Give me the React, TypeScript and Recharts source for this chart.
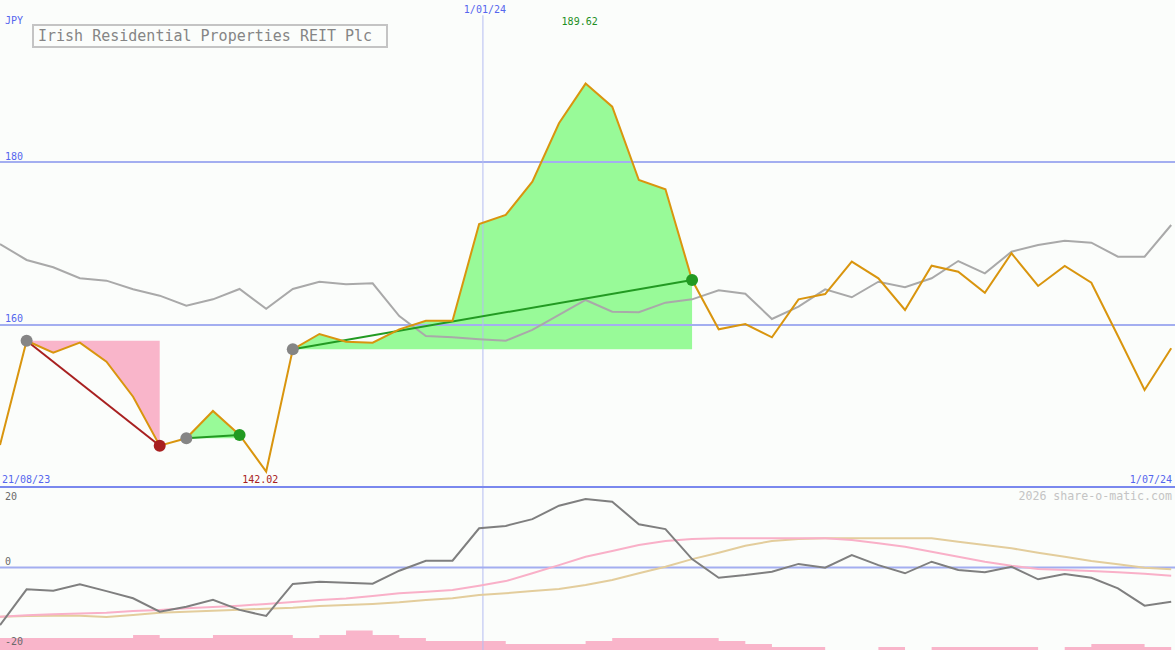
import React from "react";
import {
  ComposedChart,
  Line,
  Area,
  XAxis,
  YAxis,
  ReferenceLine,
  ReferenceDot,
} from "recharts";

// weekly closes, first one sits on the left edge
const weeks = [
  "27/08/23", "3/09/23", "10/09/23", "17/09/23", "24/09/23", "1/10/23", "8/10/23",
  "15/10/23", "22/10/23", "29/10/23", "5/11/23", "12/11/23", "19/11/23", "26/11/23",
  "3/12/23", "10/12/23", "17/12/23", "24/12/23", "31/12/23", "7/01/24", "14/01/24",
  "21/01/24", "28/01/24", "4/02/24", "11/02/24", "18/02/24", "25/02/24", "3/03/24",
  "10/03/24", "17/03/24", "24/03/24", "31/03/24", "7/04/24", "14/04/24", "21/04/24",
  "28/04/24", "5/05/24", "12/05/24", "19/05/24", "26/05/24", "2/06/24", "9/06/24",
  "16/06/24", "23/06/24", "30/06/24",
];

const price = [
  145.28, 158.07, 156.6, 157.83, 155.5, 151.2, 145.19, 146.1, 149.45, 146.5,
  142.02, 157.02, 158.9, 157.95, 157.83, 159.47, 160.53, 160.53, 172.39, 173.5,
  177.58, 184.75, 189.62, 186.79, 177.79, 176.65, 165.52, 159.47, 160.12, 158.49,
  163.15, 163.8, 167.77, 165.73, 161.84, 167.28, 166.54, 163.96, 168.8, 164.79,
  167.24, 165.19, 158.65, 152.02, 157.14,
];

const average = [
  169.94, 167.98, 167.08, 165.73, 165.44, 164.38, 163.6, 162.37, 163.15, 164.42,
  162.0, 164.42, 165.31, 164.99, 165.12, 161.1, 158.65, 158.49, 158.25, 158.07,
  159.39, 161.23, 163.07, 161.63, 161.56, 162.74, 163.15, 164.26, 163.84, 160.74,
  162.25, 164.38, 163.4, 165.31, 164.63, 165.73, 167.85, 166.34, 168.99, 169.82,
  170.34, 170.1, 168.38, 168.38, 172.27,
];

const momentum = [
  -14.4, -5.45, -5.8, -4.2, -5.9, -7.7, -11.05, -9.8, -8.1, -10.6,
  -12.1, -4.1, -3.55, -3.8, -4.05, -0.8, 1.7, 1.7, 9.8, 10.4,
  12.1, 15.45, 17.1, 16.45, 10.8, 9.6, 2.1, -2.55, -1.9, -1.05,
  0.9, -0.05, 3.1, 0.6, -1.45, 1.45, -0.6, -1.2, 0.2, -2.95,
  -1.6, -2.55, -5.2, -9.55, -8.55,
];

const signal = [
  -12.3, -11.95, -11.7, -11.5, -11.3, -10.9, -10.6, -10.2, -9.9, -9.55,
  -9.1, -8.6, -8.1, -7.75, -7.1, -6.45, -6.05, -5.6, -4.55, -3.4,
  -1.45, 0.6, 2.7, 4.1, 5.6, 6.6, 7.1, 7.3, 7.3, 7.3,
  7.3, 7.3, 6.9, 6.05, 5.2, 3.95, 2.7, 1.45, 0.45, -0.4,
  -0.6, -0.9, -1.2, -1.55, -2.05,
];

const slowSignal = [
  -12.3, -12.1, -12.05, -12.05, -12.4, -11.9, -11.3, -11.05, -10.8, -10.55,
  -10.3, -10.05, -9.6, -9.4, -9.1, -8.7, -8.1, -7.7, -6.9, -6.45,
  -5.9, -5.4, -4.4, -3.1, -1.45, 0.2, 2.1, 3.7, 5.45, 6.6,
  7.1, 7.3, 7.3, 7.3, 7.3, 7.3, 6.45, 5.6, 4.8, 3.7,
  2.7, 1.6, 0.8, -0.05, -0.45,
];

// volume block for the week starting at each close
const volume = [
  4, 4, 4, 4, 4, 5, 4, 4, 5, 5, 5, 4, 5, 6.5, 5, 4, 3, 3, 3, 2, 2, 2, 3,
  4, 4, 4, 4, 3, 2, 1, 1, 0, 0, 1, 0, 1, 1, 1, 1, 0, 1, 2, 2, 1, 1,
];

// index of the entry and exit week of each trade
const trades = [
  { open: 1, close: 6 },
  { open: 7, close: 9 },
  { open: 11, close: 26 },
];

const priceTicks = [160, 180];
const momentumTicks = [20, 0, -20];
const markerDate = "1/01/24";
const firstDate = "21/08/23";
const lastDate = "1/07/24";
const currency = "JPY";
const title = "Irish Residential Properties REIT Plc";
const credit = "2026 share-o-matic.com";

const W = 1175;
const TOP_H = 487;
const LOW_H = 163;
const PRICE_DOMAIN = [140.12, 199.88];
const MOM_DOMAIN = [-20.625, 20.125];
const MONO = "'DejaVu Sans Mono', monospace";

const BLUE = "#5566ee";
const GRID = "#a3aef0";
const ORANGE = "#d9950e";
const PINK = "#f9b5ca";
const GAIN = "#98fa98";
const WIN = "#229a22";
const LOSS = "#a82020";

const dayOf = (s: string) => {
  const [d, m, y] = s.split("/").map(Number);
  return Date.UTC(2000 + y, m - 1, d) / 86400000;
};
const day0 = dayOf(weeks[0]);
const xOf = (s: string) => dayOf(s) - day0;
const xEnd = xOf(lastDate);
const markX = xOf(markerDate);

const rows = weeks.map((w, i) => {
  const row: any = {
    x: xOf(w),
    price: price[i],
    average: average[i],
    momentum: momentum[i],
    signal: signal[i],
    slow: slowSignal[i],
    volume: volume[i],
  };
  trades.forEach((t, k) => {
    if (i < t.open || i > t.close) return;
    const entry = price[t.open];
    const won = price[t.close] >= entry;
    if (won) row.gainBand = [entry, price[i]];
    else row.lossBand = [price[i], entry];
    if (i === t.open || i === t.close) row[`trend${k}`] = price[i];
  });
  return row;
});

const peakI = price.indexOf(Math.max(...price));
const lowI = price.indexOf(Math.min(...price));

// text placed relative to a reference mark, kept inside the panel height
const tag =
  (text: string, color: string, dx: number, dy: number, anchor = "start", size = 10, panel = 0) =>
  (props: any) => {
    const vb = props.viewBox || {};
    let y = vb.y + dy;
    if (panel) y = Math.min(Math.max(y, 9), panel - 9);
    return (
      <text
        x={vb.x + dx}
        y={y}
        fill={color}
        fontSize={size}
        fontFamily={MONO}
        textAnchor={anchor}
        dominantBaseline="central"
      >
        {text}
      </text>
    );
  };

const noMargin = { top: 0, right: 0, bottom: 0, left: 0 };

function PricePanel() {
  return (
    <ComposedChart width={W} height={TOP_H} data={rows} margin={noMargin}>
      <XAxis type="number" dataKey="x" domain={[0, xEnd]} hide allowDataOverflow />
      <YAxis domain={PRICE_DOMAIN} allowDataOverflow hide />
      {priceTicks.map((t) => (
        <ReferenceLine
          key={t}
          y={t}
          stroke={GRID}
          strokeWidth={2}
          label={tag(String(t), BLUE, 5, -6)}
        />
      ))}
      <ReferenceLine
        segment={[
          { x: markX, y: 198 },
          { x: markX, y: PRICE_DOMAIN[0] },
        ]}
        stroke="#b4bcf2"
      />
      <Area
        dataKey="lossBand"
        fill={PINK}
        fillOpacity={1}
        stroke="none"
        isAnimationActive={false}
      />
      <Area
        dataKey="gainBand"
        fill={GAIN}
        fillOpacity={1}
        stroke="none"
        isAnimationActive={false}
      />
      <Line
        dataKey="average"
        stroke="#a9a9a9"
        strokeWidth={2}
        dot={false}
        activeDot={false}
        isAnimationActive={false}
      />
      {trades.map((t, k) => (
        <ReferenceDot
          key={`o${k}`}
          x={rows[t.open].x}
          y={price[t.open]}
          r={6}
          fill="#858585"
          stroke="none"
        />
      ))}
      {trades.map((t, k) => (
        <ReferenceDot
          key={`c${k}`}
          x={rows[t.close].x}
          y={price[t.close]}
          r={6}
          fill={price[t.close] >= price[t.open] ? WIN : LOSS}
          stroke="none"
        />
      ))}
      {trades.map((t, k) => (
        <Line
          key={`t${k}`}
          dataKey={`trend${k}`}
          connectNulls
          stroke={price[t.close] >= price[t.open] ? WIN : LOSS}
          strokeWidth={2}
          dot={false}
          activeDot={false}
          isAnimationActive={false}
        />
      ))}
      <Line
        dataKey="price"
        stroke={ORANGE}
        strokeWidth={2}
        dot={false}
        activeDot={false}
        isAnimationActive={false}
      />
      <ReferenceDot x={0} y={PRICE_DOMAIN[1]} r={0} label={tag(currency, BLUE, 5, 20)} />
      <ReferenceDot x={markX} y={PRICE_DOMAIN[1]} r={0} label={tag(markerDate, BLUE, 2, 9, "middle")} />
      <ReferenceDot
        x={rows[peakI].x}
        y={PRICE_DOMAIN[1]}
        r={0}
        label={tag(price[peakI].toFixed(2), "#1f8f1f", -24, 21)}
      />
      <ReferenceDot
        x={rows[lowI].x}
        y={PRICE_DOMAIN[0]}
        r={0}
        label={tag(price[lowI].toFixed(2), LOSS, -24, -8)}
      />
      <ReferenceDot x={0} y={PRICE_DOMAIN[0]} r={0} label={tag(firstDate, BLUE, 2, -8)} />
      <ReferenceDot x={xEnd} y={PRICE_DOMAIN[0]} r={0} label={tag(lastDate, BLUE, -3, -8, "end")} />
    </ComposedChart>
  );
}

function MomentumPanel() {
  return (
    <ComposedChart width={W} height={LOW_H} data={rows} margin={noMargin}>
      <XAxis type="number" dataKey="x" domain={[0, xEnd]} hide allowDataOverflow />
      <YAxis yAxisId="m" domain={MOM_DOMAIN} allowDataOverflow hide />
      <YAxis yAxisId="v" domain={[0, LOW_H / 3]} hide allowDataOverflow />
      <ReferenceLine yAxisId="m" x={markX} stroke="#b4bcf2" />
      <ReferenceLine yAxisId="m" y={0} stroke={GRID} strokeWidth={2} />
      <Area
        yAxisId="v"
        type="stepAfter"
        dataKey="volume"
        fill={PINK}
        fillOpacity={1}
        stroke="none"
        isAnimationActive={false}
      />
      <Line
        yAxisId="m"
        dataKey="slow"
        stroke="#e3cd9c"
        strokeWidth={2}
        dot={false}
        activeDot={false}
        isAnimationActive={false}
      />
      <Line
        yAxisId="m"
        dataKey="signal"
        stroke="#f9b0c8"
        strokeWidth={2}
        dot={false}
        activeDot={false}
        isAnimationActive={false}
      />
      <Line
        yAxisId="m"
        dataKey="momentum"
        stroke="#7f7f7f"
        strokeWidth={2}
        dot={false}
        activeDot={false}
        isAnimationActive={false}
      />
      {momentumTicks.map((t) => (
        <ReferenceDot
          key={t}
          yAxisId="m"
          x={0}
          y={t}
          r={0}
          label={tag(String(t), "#6a6a6a", 5, -6, "start", 10, LOW_H)}
        />
      ))}
      <ReferenceDot
        yAxisId="m"
        x={xEnd}
        y={MOM_DOMAIN[1]}
        r={0}
        label={tag(credit, "#c4c4c4", -3, 9, "end", 11.6)}
      />
    </ComposedChart>
  );
}

export default function App() {
  return (
    <div
      style={{
        position: "absolute",
        left: 0,
        top: 0,
        width: W,
        height: TOP_H + LOW_H,
        background: "#fbfdfb",
        overflow: "hidden",
      }}
    >
      <div style={{ position: "absolute", left: 0, top: 0 }}>
        <PricePanel />
      </div>
      <div style={{ position: "absolute", left: 0, top: TOP_H }}>
        <MomentumPanel />
      </div>
      <div
        style={{
          position: "absolute",
          left: 0,
          top: TOP_H - 1,
          width: W,
          height: 2,
          background: "#7a88ee",
        }}
      />
      <div
        style={{
          position: "absolute",
          left: 32,
          top: 24,
          width: 356,
          height: 24,
          boxSizing: "border-box",
          border: "2px solid #c4c4c4",
          color: "#858585",
          fontFamily: MONO,
          fontSize: 15,
          lineHeight: "20px",
          paddingLeft: 4,
          whiteSpace: "nowrap",
        }}
      >
        {title}
      </div>
    </div>
  );
}
